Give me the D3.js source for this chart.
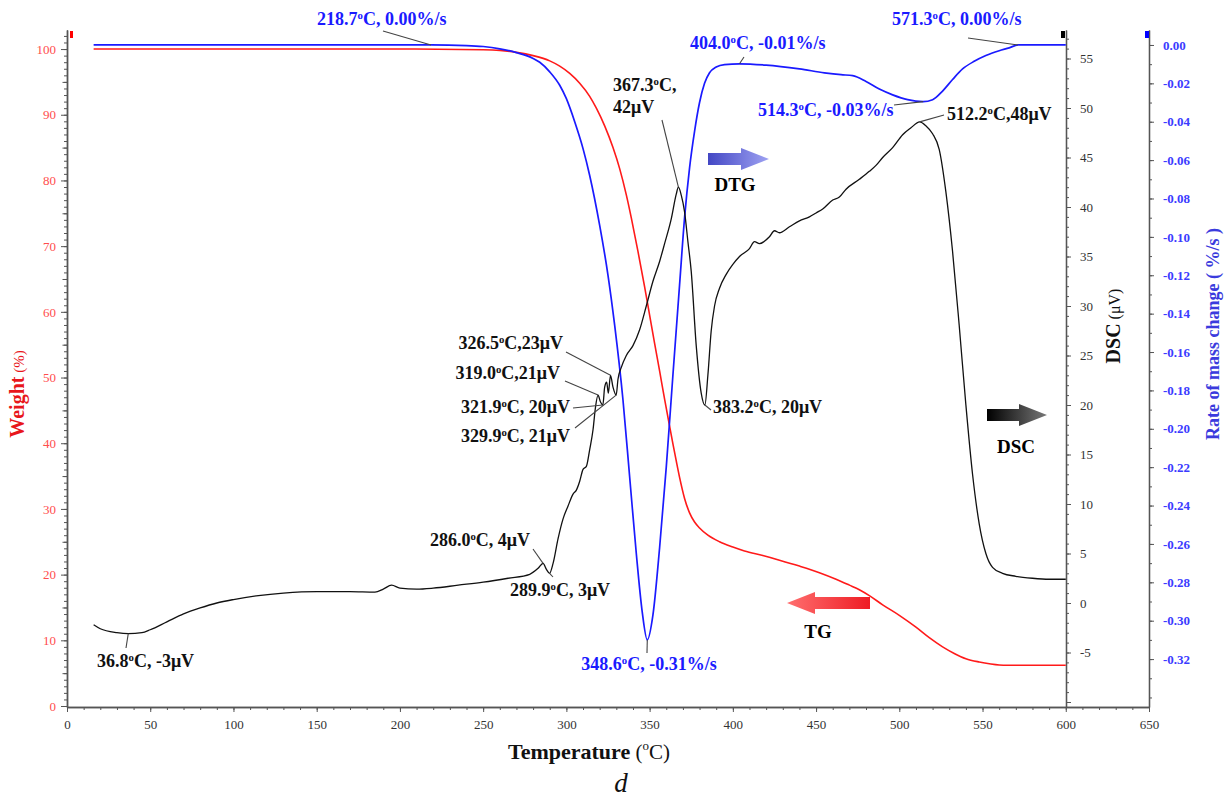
<!DOCTYPE html>
<html><head><meta charset="utf-8">
<script src="https://cdn.jsdelivr.net/npm/d3@7"></script>
<style>body{margin:0;background:#fff} text{font-family:"Liberation Serif","Times New Roman",serif}</style>
</head><body><svg id="c" width="1225" height="800"></svg>
<script>
// ---------- DATA ----------
const tgT = [16,200,250,260,270,280,290,296,302,308,314,318,323,328,332,336,339,343,347,350,353,356,359,362,364,366,368,371,374,377,380,385,392,400,407,418,428,440,452,462,470,476,482,490,500,510,518,526,533,540,548,555,560,565,600];
const tgW = [100,100,99.9,99.8,99.5,99.0,98.2,97.4,96.3,94.8,92.8,91.0,88.3,85.0,81.8,77.8,74.3,69.2,63.8,59.5,55.2,51.0,46.7,42.6,39.9,37.3,34.8,31.6,29.4,28.0,27.1,26.0,25.0,24.2,23.6,22.9,22.2,21.3,20.3,19.3,18.4,17.7,16.8,15.4,13.8,12.0,10.4,9.0,8.0,7.2,6.7,6.4,6.25,6.2,6.2];

const dtgT = [16,218.7,240,250,260,270,280,284,290,296,300,305,310,314,320,325,329,334,338,342,345.5,348.6,352,356,360,364,368,371,374,377,380,383,386,390,395,404,420,440,455,465,472,480,488,496,505,514.3,520,526,532,538,545,552,560,566,571.3,600];
const dtgR = [0,0,-0.0003,-0.0008,-0.002,-0.004,-0.007,-0.009,-0.014,-0.021,-0.028,-0.04,-0.054,-0.068,-0.094,-0.12,-0.146,-0.185,-0.225,-0.265,-0.295,-0.31,-0.297,-0.262,-0.22,-0.172,-0.125,-0.09,-0.064,-0.045,-0.03,-0.02,-0.0145,-0.0115,-0.0102,-0.0098,-0.0105,-0.0125,-0.0145,-0.0155,-0.016,-0.019,-0.023,-0.026,-0.0285,-0.0295,-0.0285,-0.024,-0.018,-0.0125,-0.0085,-0.0055,-0.003,-0.0015,0,0];

const dscT = [16,20,30,36.8,45,50,60,70,80,90,100,115,130,150,170,185,190,195,200,210,220,235,250,265,278,283,286,288,289.9,292,295,298,301,304,306,308,310,312,314,316,317.5,319,320.5,321.9,323,324.2,325.2,326.5,328,329.9,331,333,336,340,344,348,352,356,359,363,366,367.3,369,371,373,375,378,381,383.2,385,387,389,392,396,400,404,410,413,416,422,425,428,434,440,446,450,454,460,464,468,476,482,486,490,496,502,507,512.2,516,520,524,528,532,536,540,544,548,552,556,562,570,580,590,600];
const dscV = [-2.2,-2.6,-3.0,-3.1,-3.0,-2.7,-1.9,-1.1,-0.5,0,0.35,0.75,1.0,1.15,1.15,1.1,1.4,1.8,1.5,1.4,1.5,1.8,2.1,2.5,2.9,3.5,4.0,3.4,3.0,4.0,6.5,8.5,9.8,11.0,11.4,12.3,13.5,13.8,15.5,17.5,19.8,21.0,20.3,20.0,21.8,22.3,21.2,23.0,21.8,21.0,22.6,23.8,25.0,26.0,27.6,30.0,32.5,34.5,36.3,38.8,41.3,42.0,41.2,39.5,36.5,33.5,26.0,21.2,20.0,23.0,27.5,30.0,31.8,33.2,34.2,35.0,35.8,36.5,36.3,37.0,37.6,37.4,38.0,38.6,39.0,39.4,39.8,40.7,41.0,41.8,42.8,43.6,44.2,45.0,46.0,47.3,48.0,48.6,48.2,47.4,45.8,41.5,35.5,28.0,20.0,13.0,8.0,5.0,3.6,3.0,2.7,2.5,2.4,2.4];

const xTicks = [0,50,100,150,200,250,300,350,400,450,500,550,600,650];
const wTicks = [0,10,20,30,40,50,60,70,80,90,100];
const dscTicks = [-5,0,5,10,15,20,25,30,35,40,45,50,55];
const rateTicks = [0,-0.02,-0.04,-0.06,-0.08,-0.10,-0.12,-0.14,-0.16,-0.18,-0.20,-0.22,-0.24,-0.26,-0.28,-0.30,-0.32];

// annotations: text, series, temperature, value
const annText = ["218.7°C, 0.00%/s","404.0°C, -0.01%/s","571.3°C, 0.00%/s","514.3°C, -0.03%/s","348.6°C, -0.31%/s",
  "367.3°C,|42μV","326.5°C,23μV","319.0°C,21μV","321.9°C, 20μV","329.9°C, 21μV","286.0°C, 4μV","289.9°C, 3μV","36.8°C, -3μV","383.2°C, 20μV","512.2°C,48μV"];
const annSeries = ["dtg","dtg","dtg","dtg","dtg","dsc","dsc","dsc","dsc","dsc","dsc","dsc","dsc","dsc","dsc"];
const annT = [218.7,404.0,571.3,514.3,348.6,367.3,326.5,319.0,321.9,329.9,286.0,289.9,36.8,383.2,512.2];
const annV = [0,-0.0098,0,-0.0295,-0.31,42,23,21,20,21,4,3,-3.1,20,48.6];

// ---------- LAYOUT ----------
// label position [x, baseline y, anchor], leader start [x,y]
const annLayout = [
  [317,25,"start",383,31],[690,49,"start",744,57],[892,25,"start",968,38],[758,116,"start",894,105],[649,670,"middle",647,653],
  [613,91,"start",662,120],[563,349,"end",566,352],[560,379,"end",565,381],[570,413,"end",573,408],[570,442,"end",575,428],
  [530,546,"end",533,549],[510,596,"start",553,577],[97,667,"start",126,648],[713,413,"start",711,410],[947,120,"start",944,115]
];

const svg = d3.select('#c');
const x = d3.scaleLinear([0,650],[67,1149]);
const yW = d3.scaleLinear([-0.15,102.9],[707,30]);
const yD = d3.scaleLinear([-10.505,57.879],[707,30]);
const yR = d3.scaleLinear([-0.34497,0.0078],[707,30]);

const AX = '#555';
const FONT = '"Liberation Serif","Times New Roman",serif';
function styleAxis(g, color, size, weight){
  g.selectAll('g').attr('font-family',FONT).attr('font-size',size||13);
  g.selectAll('.domain').attr('stroke',AX).attr('stroke-width',1.3);
  g.selectAll('line').attr('stroke',AX).attr('stroke-width',1);
  g.selectAll('text').attr('fill',color).attr('font-size',size||13).attr('font-family',FONT).attr('font-weight',weight||'normal');
}
// bottom axis
{
  const g = svg.append('g').attr('transform','translate(0,707)');
  g.append('g').call(d3.axisBottom(x).tickValues(d3.range(0,651,10)).tickSize(3).tickFormat('').tickSizeOuter(0));
  g.append('g').call(d3.axisBottom(x).tickValues(xTicks).tickSize(5).tickPadding(8).tickFormat(d=>String(d)).tickSizeOuter(0));
  styleAxis(g,'#333',13);
}
// left weight axis
{
  const g = svg.append('g').attr('transform','translate(67,0)');
  g.append('g').call(d3.axisLeft(yW).tickValues(d3.range(0,103,1)).tickSize(3).tickFormat('').tickSizeOuter(0));
  g.append('g').call(d3.axisLeft(yW).tickValues(d3.range(5,101,10)).tickSize(4.5).tickFormat('').tickSizeOuter(0));
  g.append('g').call(d3.axisLeft(yW).tickValues(wTicks).tickSize(6).tickPadding(5).tickFormat(d=>String(d)).tickSizeOuter(0));
  styleAxis(g,'#ff4d4d',13);
}
// DSC axis
{
  const g = svg.append('g').attr('transform','translate(1066,0)');
  g.append('g').call(d3.axisRight(yD).tickValues(d3.range(-10,58,1)).tickSize(3).tickFormat('').tickSizeOuter(0));
  g.append('g').call(d3.axisRight(yD).tickValues([-10].concat(dscTicks)).tickSize(5).tickPadding(9).tickFormat(d=>d===-10?'':String(d)).tickSizeOuter(0));
  styleAxis(g,'#333',13);
}
// rate axis
{
  const g = svg.append('g').attr('transform','translate(1149,0)');
  g.append('g').call(d3.axisRight(yR).tickValues(d3.range(0,35).map(i=>-i/100)).tickSize(3).tickFormat('').tickSizeOuter(0));
  g.append('g').call(d3.axisRight(yR).tickValues(rateTicks).tickSize(5).tickPadding(9).tickFormat(v=>Math.abs(v)<1e-9?'0.00':v.toFixed(2)).tickSizeOuter(0));
  styleAxis(g,'#3b3bff',13,'bold');
}
// axis top markers
svg.append('rect').attr('x',70).attr('y',31).attr('width',3).attr('height',7).attr('fill','#f00');
svg.append('rect').attr('x',1061).attr('y',31).attr('width',4).attr('height',7).attr('fill','#000');
svg.append('rect').attr('x',1145).attr('y',31).attr('width',4).attr('height',7).attr('fill','#00f');

// curves
const lineOf = (ys)=>d3.line().x(d=>x(d[0])).y(d=>ys(d[1])).curve(d3.curveMonotoneX);
svg.append('path').datum(d3.zip(tgT,tgW)).attr('d',lineOf(yW)).attr('fill','none').attr('stroke','#ff1a1a').attr('stroke-width',1.6);
svg.append('path').datum(d3.zip(dtgT,dtgR)).attr('d',lineOf(yR)).attr('fill','none').attr('stroke','#1a1aff').attr('stroke-width',1.7);
svg.append('path').datum(d3.zip(dscT,dscV)).attr('d',lineOf(yD)).attr('fill','none').attr('stroke','#111').attr('stroke-width',1.3);

// annotations
function richText(sel, str){
  const parts = str.split('°');
  sel.append('tspan').text(parts[0]);
  if(parts.length>1){
    sel.append('tspan').text('o').attr('font-size','0.6em').attr('dy','-0.55em');
    sel.append('tspan').text(parts[1]).attr('dy','0.33em');
  }
}
annText.forEach((t,i)=>{
  const L = annLayout[i];
  const ys = annSeries[i]==='dtg'?yR:yD;
  const px = x(annT[i]), py = ys(annV[i]);
  svg.append('line').attr('x1',L[3]).attr('y1',L[4]).attr('x2',px).attr('y2',py).attr('stroke','#444').attr('stroke-width',1.1);
  const color = annSeries[i]==='dtg'?'#1a1aff':'#111';
  const lines = t.split('|');
  lines.forEach((ln,j)=>{
    const tx = svg.append('text').attr('x',L[0]).attr('y',L[1]+j*22).attr('text-anchor',L[2])
      .attr('font-size',18).attr('font-weight','bold').attr('fill',color);
    richText(tx, ln);
  });
});

// arrows
const defs = svg.append('defs');
function grad(id,c1,c2){
  const g = defs.append('linearGradient').attr('id',id).attr('x1','0%').attr('x2','100%');
  g.append('stop').attr('offset','0%').attr('stop-color',c1);
  g.append('stop').attr('offset','100%').attr('stop-color',c2);
}
grad('gB','#4347c4','#9ea2f2'); grad('gK','#000','#777'); grad('gR','#ff6f6f','#ee1c24');
svg.append('path').attr('d','M708,153 L741,153 L741,148 L769,159 L741,170 L741,165 L708,165 Z').attr('fill','url(#gB)');
svg.append('path').attr('d','M987,409 L1019,409 L1019,404 L1047,415 L1019,426 L1019,421 L987,421 Z').attr('fill','url(#gK)');
svg.append('path').attr('d','M870,597 L815,597 L815,592 L787,603 L815,614 L815,609 L870,609 Z').attr('fill','url(#gR)');
svg.append('text').attr('x',735).attr('y',191).attr('text-anchor','middle').attr('font-size',19).attr('font-weight','bold').text('DTG');
svg.append('text').attr('x',1016).attr('y',453).attr('text-anchor','middle').attr('font-size',19).attr('font-weight','bold').text('DSC');
svg.append('text').attr('x',818).attr('y',638).attr('text-anchor','middle').attr('font-size',19).attr('font-weight','bold').text('TG');

// axis titles
{
  const t = svg.append('text').attr('transform','translate(24,394) rotate(-90)').attr('text-anchor','middle').attr('fill','#e8161b');
  t.append('tspan').text('Weight').attr('font-size',20).attr('font-weight','bold');
  t.append('tspan').text(' (%)').attr('font-size',15);
}
{
  const t = svg.append('text').attr('transform','translate(1120,326) rotate(-90)').attr('text-anchor','middle').attr('fill','#111');
  t.append('tspan').text('DSC').attr('font-size',20).attr('font-weight','bold');
  t.append('tspan').text(' (μV)').attr('font-size',16);
}
svg.append('text').attr('transform','translate(1219,334) rotate(-90)').attr('text-anchor','middle').attr('fill','#3b3bdd')
  .attr('font-size',18).attr('font-weight','bold').text('Rate of mass change ( %/s )');
{
  const t = svg.append('text').attr('x',589).attr('y',759).attr('text-anchor','middle').attr('fill','#111');
  t.append('tspan').text('Temperature').attr('font-size',22).attr('font-weight','bold');
  t.append('tspan').text(' (').attr('font-size',21);
  t.append('tspan').text('o').attr('font-size',13).attr('dy',-9);
  t.append('tspan').text('C)').attr('font-size',21).attr('dy',9);
}
svg.append('text').attr('x',621).attr('y',792).attr('text-anchor','middle').attr('font-size',27).attr('font-style','italic').attr('fill','#111').text('d');
</script></body></html>
